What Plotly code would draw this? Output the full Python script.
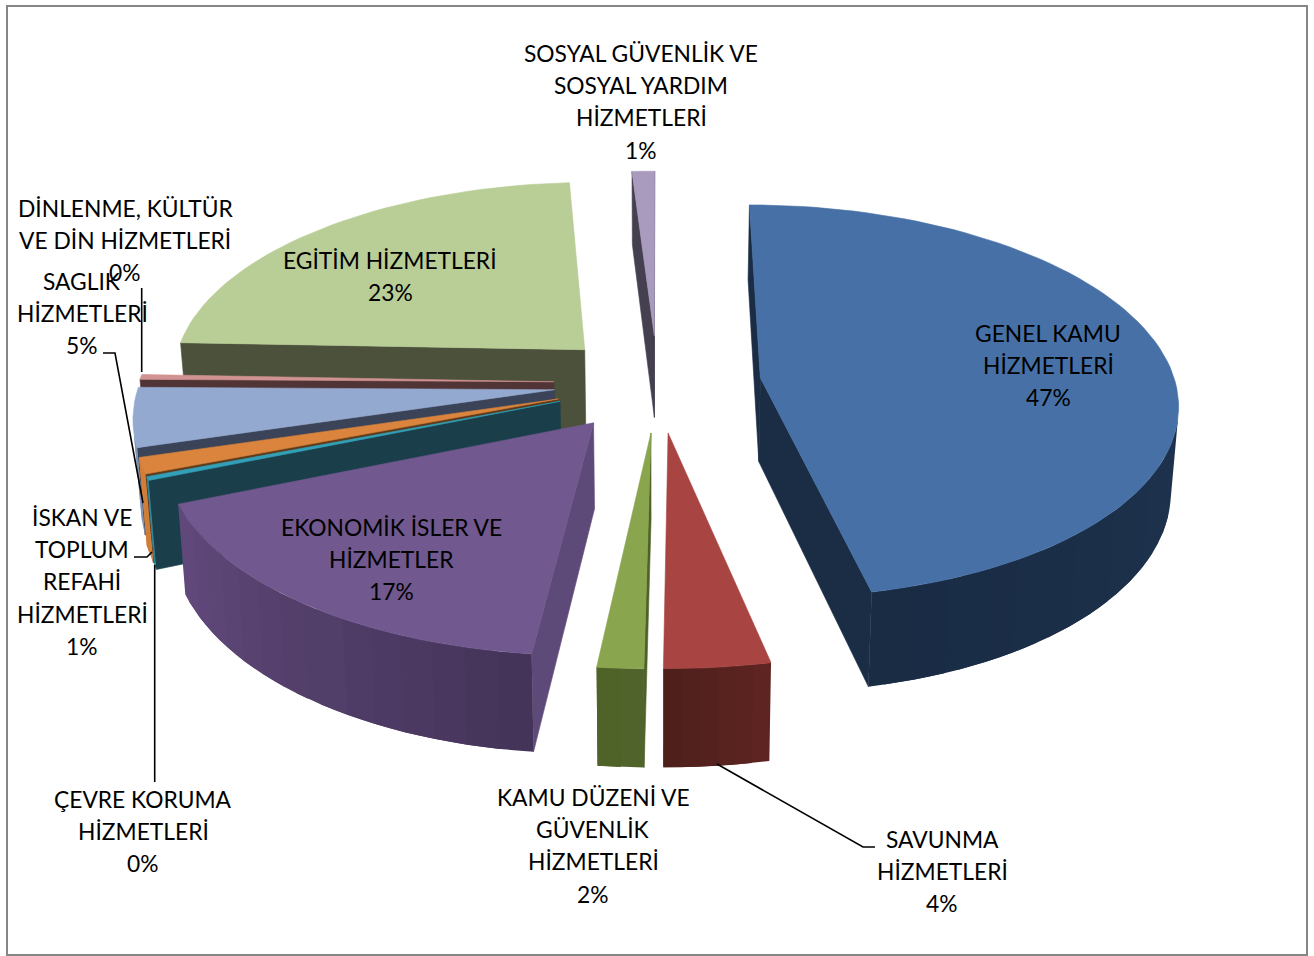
import math
import plotly.graph_objects as go

# --- data -----------------------------------------------------------------
categories = [
    "GENEL KAMU|HİZMETLERİ", "SAVUNMA|HİZMETLERİ", "KAMU DÜZENİ VE|GÜVENLİK|HİZMETLERİ",
    "EKONOMİK İSLER VE|HİZMETLER", "ÇEVRE KORUMA|HİZMETLERİ",
    "İSKAN VE|TOPLUM|REFAHİ|HİZMETLERİ", "SAGLIK|HİZMETLERİ",
    "DİNLENME, KÜLTÜR|VE DİN HİZMETLERİ", "EGİTİM HİZMETLERİ",
    "SOSYAL GÜVENLİK VE|SOSYAL YARDIM|HİZMETLERİ",
]
values = [46.65, 3.55, 1.55, 17.05, 0.3, 1.3, 4.8, 0.4, 23.4, 1.0]

# --- styles ---------------------------------------------------------------
top_colors = ["#4771A6", "#A84441", "#89A54E", "#71588F", "#31A0B8", "#DB843D", "#93A9CF", "#D19392", "#B9CD96", "#A99BBD"]
wall_colors = ["#1A2D45", "#5A2321", "#4F6228", "#5E4A78", "#1A3F4B", "#5E3A1A", "#3A4357", "#503436", "#4B513A", "#45404F"]
arc_from = ["#1D324E", "#5E2421", "#4F632B", "#45345A", "#31859C", "#D07E38", "#7F93B5", "#503436", "#4B513A", "#45404F"]
arc_to = ["#1A2C44", "#4F1F1C", "#4F6228", "#60497A", "#31859C", "#D07E38", "#7F93B5", "#503436", "#4B513A", "#45404F"]
draw_order = [9, 8, 7, 6, 5, 4, 3, 0, 2, 1]
CX, CY, RX, RY, K, DEPTH, SHRINK, PULL = 657.5, 383, 415, 194.7, 0.119, 84, 0.985, 0.25


def top(x, y):
    s = 1 / (1 - K * y)
    return CX + RX * x * s, CY + RY * y * s


def bottom(x, y):
    s = 1 / (1 - K * y)
    px, py = top(x, y)
    return CX + (px - CX) * SHRINK, py + DEPTH * s


def mix(a, b, t):
    ca = [int(a[i:i + 2], 16) for i in (1, 3, 5)]
    cb = [int(b[i:i + 2], 16) for i in (1, 3, 5)]
    return "rgb(%d,%d,%d)" % tuple(round(p + (q - p) * t) for p, q in zip(ca, cb))


def signed_area(pts):
    return sum(pts[i][0] * pts[(i + 1) % len(pts)][1] - pts[(i + 1) % len(pts)][0] * pts[i][1] for i in range(len(pts)))


fig = go.Figure()


def polygon(pts, color, width=0.6):
    fig.add_trace(go.Scatter(
        x=[p[0] for p in pts] + [pts[0][0]], y=[p[1] for p in pts] + [pts[0][1]],
        mode="lines", fill="toself", fillcolor=color, line=dict(color=color, width=width),
        hoverinfo="skip", showlegend=False))


def quad(p, q):
    return [top(*p), top(*q), bottom(*q), bottom(*p)]


def wall(p, q, color):
    pts = quad(p, q)
    if signed_area(pts) < 0:
        polygon(pts, color)


total = sum(values)
bounds = [0.0]
for v in values:
    bounds.append(bounds[-1] + 360.0 * v / total)

BANDS = 14  # flat colour bands along a curved wall, like the stepped shading of the original
for i in draw_order:
    a0, a1 = bounds[i], bounds[i + 1]
    mid = math.radians((a0 + a1) / 2)
    ax, ay = PULL * math.sin(mid), -PULL * math.cos(mid)
    n = max(2, int((a1 - a0) / 2))
    rim = []
    for j in range(n + 1):
        t = math.radians(a0 + (a1 - a0) * j / n)
        rim.append((ax + math.sin(t), ay - math.cos(t)))
    wall((ax, ay), rim[0], wall_colors[i])
    wall(rim[-1], (ax, ay), wall_colors[i])
    # one polygon per colour band, built only from the segments that face the viewer
    visible = [j for j in range(n) if signed_area(quad(rim[j], rim[j + 1])) < 0]
    if visible:
        bands = max(1, min(BANDS, len(visible)))
        for b in range(bands):
            lo = visible[len(visible) * b // bands]
            hi = visible[(len(visible) * (b + 1) - 1) // bands] + 1
            if b < bands - 1:
                hi = min(hi + 1, visible[-1] + 1)  # overlap the next band so no seam shows
            seg = rim[lo:hi + 1]
            pts = [top(*p) for p in seg] + [bottom(*p) for p in reversed(seg)]
            polygon(pts, mix(arc_from[i], arc_to[i], b / max(1, bands - 1)), width=0)
    polygon([top(ax, ay)] + [top(*p) for p in rim], top_colors[i])

# --- leader lines ---------------------------------------------------------
leaders = [
    ([141.7, 141.7], [288, 372]),
    ([103, 115, 143], [353, 353, 503]),
    ([134, 147, 152], [557, 557, 552]),
    ([154.7, 154.7], [565, 782]),
    ([717, 863, 875], [764, 847, 847]),
]
for lx, ly in leaders:
    fig.add_trace(go.Scatter(x=lx, y=ly, mode="lines", line=dict(color="#000000", width=1.6),
                             hoverinfo="skip", showlegend=False))

# --- labels ---------------------------------------------------------------
label_x = [1048, 942, 593, 391, 143, 82, 82, 125, 390, 641]
label_y = [332.5, 838.5, 796.5, 526.5, 798.5, 516.5, 280.5, 207.5, 259.5, 52.5]
percent_labels = ["47%", "4%", "2%", "17%", "0%", "1%", "5%", "0%", "23%", "1%"]
LINE = 32.4
annotations = []
for name, pct, lx, ly in zip(categories, percent_labels, label_x, label_y):
    lines = name.split("|") + [pct]
    for n, text in enumerate(lines):
        annotations.append(dict(x=lx, y=ly + n * LINE, xref="x", yref="y", text=text, showarrow=False,
                                xanchor="center", yanchor="middle", align="center",
                                font=dict(family="Lato", size=22.8, color="#000000")))

fig.update_layout(
    width=1314, height=956, autosize=False,
    margin=dict(l=0, r=0, t=0, b=0), paper_bgcolor="white", plot_bgcolor="white",
    xaxis=dict(range=[0, 1314], visible=False, fixedrange=True),
    yaxis=dict(range=[956, 0], visible=False, fixedrange=True),
    annotations=annotations,
    shapes=[dict(type="rect", xref="x", yref="y", x0=7, y0=6, x1=1307, y1=955,
                 line=dict(color="#868686", width=2), layer="below")],
)
fig.write_html("out.html", post_script="document.body.style.margin='0';document.body.style.overflow='hidden';",
               config={"displayModeBar": False})
